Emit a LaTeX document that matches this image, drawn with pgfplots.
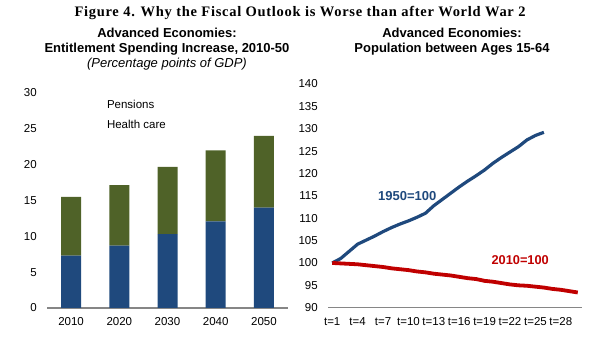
\documentclass[border=0pt]{standalone}
\usepackage{fontspec}
\setmainfont{Liberation Sans}
\newfontfamily\titlefont[LetterSpace=5]{Liberation Serif}
\usepackage{pgfplots}
\pgfplotsset{compat=1.18}
\definecolor{barblue}{RGB}{31,73,125}
\definecolor{bargreen}{RGB}{79,98,40}
\definecolor{linered}{RGB}{192,0,0}
\definecolor{axgray}{RGB}{134,134,134}
\begin{document}
\begin{tikzpicture}
\useasboundingbox (0,0) rectangle (602pt,350pt);
\pgfplotsset{
  common/.style={
    scale only axis,
    anchor=south west,
    axis x line*=bottom,
    axis y line*=left,
    y axis line style={draw=none},
    x axis line style={draw=axgray, line width=1.5pt},
    major tick length=0pt,
    tick style={draw=none},
    /pgf/number format/assume math mode=true,
    tick label style={font=\fontsize{11.5}{13}\selectfont, text=black},
    yticklabel style={xshift=-6.7pt},
    xticklabel style={yshift=-6.3pt},
    clip=false,
  }
}
% Left chart
\begin{axis}[common,
  at={(47pt,42pt)}, width=241pt, height=215pt,
  ybar stacked, bar width=20pt,
  xmin=-0.5, xmax=4.5, ymin=0, ymax=30,
  ytick={0,5,...,30},
  xtick={0,1,2,3,4},
  xticklabels={2010,2020,2030,2040,2050},
  legend image code/.code={},
  legend style={draw=none, fill=none, inner sep=0pt, outer sep=0pt,
    column sep=0pt, row sep=12pt,
    at={(0.249,0.967)}, anchor=north west,
    font=\fontsize{11.5}{13}\selectfont,
    nodes={inner sep=0pt, outer sep=0pt, text height=8.4pt, text depth=0pt}},
  legend cell align=left,
]
\addplot[fill=barblue, draw=none] coordinates {(0,7.3) (1,8.7) (2,10.3) (3,12.1) (4,14.0)};
\addplot[fill=bargreen, draw=none] coordinates {(0,8.2) (1,8.45) (2,9.4) (3,9.9) (4,10.0)};
\legend{Pensions, Health care}
\end{axis}
% Right chart
\begin{axis}[common,
  at={(328pt,42.3pt)}, width=254pt, height=223.7pt,
  xmin=0.5, xmax=30.5, ymin=90, ymax=140,
  ytick={90,95,...,140},
  xtick={1,4,...,28},
  xticklabels={t=1,t=4,t=7,t=10,t=13,t=16,t=19,t=22,t=25,t=28},
]
\addplot[barblue, line width=3.2pt, mark=none] coordinates {
(1,100) (2,101.0) (3,102.6) (4,104.2) (5,105.1) (6,106.0) (7,107.0) (8,107.9)
(9,108.7) (10,109.4) (11,110.2) (12,111.1) (13,112.8) (14,114.2) (15,115.6)
(16,117.0) (17,118.3) (18,119.5) (19,120.8) (20,122.3) (21,123.6) (22,124.8)
(23,126.0) (24,127.5) (25,128.5) (26,129.2)};
\addplot[linered, line width=3.8pt, mark=none] coordinates {
(1,100) (2,99.9) (3,99.8) (4,99.7) (5,99.5) (6,99.3) (7,99.1) (8,98.8)
(9,98.6) (10,98.4) (11,98.1) (12,97.9) (13,97.6) (14,97.4) (15,97.2)
(16,96.9) (17,96.6) (18,96.4) (19,96.0) (20,95.8) (21,95.5) (22,95.2)
(23,95.0) (24,94.9) (25,94.7) (26,94.5) (27,94.2) (28,94.0) (29,93.7) (30,93.4)};
\node[text=barblue, font=\bfseries\fontsize{13}{15}\selectfont] at (axis cs:9.87,114.97) {1950=100};
\node[text=linered, font=\bfseries\fontsize{12.8}{15}\selectfont] at (axis cs:23.2,100.6) {2010=100};
\end{axis}
% Titles
\node[anchor=base, font=\titlefont\bfseries\fontsize{14.5}{17}\selectfont] at (300pt,333.5pt)
  {Figure 4. Why the Fiscal Outlook is Worse than after World War 2};
\node[anchor=base, font=\bfseries\fontsize{13}{15}\selectfont] at (167pt,312pt) {Advanced Economies:};
\node[anchor=base, font=\bfseries\fontsize{13}{15}\selectfont] at (167pt,297pt) {Entitlement Spending Increase, 2010-50};
\node[anchor=base, font=\itshape\fontsize{13}{15}\selectfont] at (167pt,282.3pt) {(Percentage points of GDP)};
\node[anchor=base, font=\bfseries\fontsize{13}{15}\selectfont] at (452pt,312pt) {Advanced Economies:};
\node[anchor=base, font=\bfseries\fontsize{13}{15}\selectfont] at (452pt,297pt) {Population between Ages 15-64};
\end{tikzpicture}
\end{document}
